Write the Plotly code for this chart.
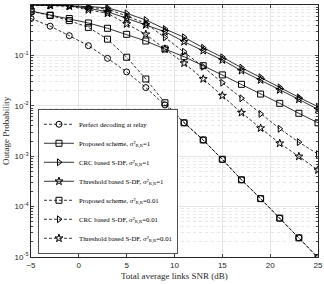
import plotly.graph_objects as go

snr = [-5, -3, -1, 1, 3, 5, 7, 9, 11, 13, 15, 17, 19, 21, 23, 25]

perfect = [0.54, 0.38, 0.246, 0.156, 0.0875, 0.047, 0.023, 0.0104, 0.0046, 0.0021,
           8.6e-4, 3.4e-4, 1.44e-4, 5.9e-5, 2.4e-5, 9.7e-6]
proposed_1 = [0.76, 0.63, 0.54, 0.44, 0.345, 0.262, 0.193, 0.134, 0.094, 0.0625,
              0.041, 0.0267, 0.0171, 0.0112, 0.0071, 0.0046]
crc_1 = [1.0, 0.99, 0.97, 0.93, 0.88, 0.684, 0.504, 0.334, 0.229, 0.142,
         0.092, 0.0572, 0.0369, 0.0232, 0.0147, 0.0096]
thr_1 = [1.0, 0.99, 0.96, 0.86, 0.736, 0.545, 0.401, 0.295, 0.187, 0.124,
         0.081, 0.0497, 0.0325, 0.0206, 0.0134, 0.0085]
proposed_001 = [0.75, 0.62, 0.49, 0.36, 0.21, 0.092, 0.034, 0.0115, 0.0046, 0.0021,
                8.7e-4, 3.4e-4, 1.44e-4, 5.9e-5, 2.4e-5, 9.7e-6]
crc_001 = [1.0, 0.99, 0.96, 0.90, 0.83, 0.605, 0.43, 0.227, 0.118, 0.0595,
           0.0287, 0.0141, 0.0069, 0.0035, 0.0019, 0.0011]
thr_001 = [1.0, 0.99, 0.95, 0.80, 0.684, 0.42, 0.262, 0.134, 0.070, 0.0341,
           0.0159, 0.0073, 0.0036, 0.0018, 0.00099, 0.00053]

sig = "σ²<sub>R,R</sub>"
series = [
    ("Perfect decoding at relay", perfect, "circle-open", "3px,2px"),
    ("Proposed scheme, " + sig + "=1", proposed_1, "square-open", "solid"),
    ("CRC based S-DF, " + sig + "=1", crc_1, "triangle-right-open", "solid"),
    ("Threshold based S-DF, " + sig + "=1", thr_1, "star-open", "solid"),
    ("Proposed scheme, " + sig + "=0.01", proposed_001, "square-open", "3px,2px"),
    ("CRC based S-DF, " + sig + "=0.01", crc_001, "triangle-right-open", "3px,2px"),
    ("Threshold based S-DF, " + sig + "=0.01", thr_001, "star-open", "3px,2px"),
]

fig = go.Figure()
for name, vals, sym, dash in series:
    fig.add_trace(go.Scatter(
        x=snr, y=vals, name=name, mode="lines+markers",
        line=dict(color="black", width=0.8, dash=dash),
        marker=dict(symbol=sym, size=6, color="black", line=dict(width=1, color="black")),
    ))

ytick_vals = [1e-5, 1e-4, 1e-3, 1e-2, 1e-1, 1]
ytick_text = ["10<sup>-5</sup>", "10<sup>-4</sup>", "10<sup>-3</sup>",
              "10<sup>-2</sup>", "10<sup>-1</sup>", "10<sup>0</sup>"]

fig.update_layout(
    width=324, height=284,
    margin=dict(l=31, r=6, t=5, b=27),
    paper_bgcolor="white", plot_bgcolor="white",
    font=dict(family="Liberation Sans", size=8, color="#262626"),
    showlegend=True,
    legend=dict(
        x=0.025, y=0.012, xanchor="left", yanchor="bottom",
        bgcolor="white", bordercolor="#262626", borderwidth=0.8,
        font=dict(family="Liberation Serif", size=6.8, color="black"),
        tracegroupgap=0, itemwidth=30,
    ),
    xaxis=dict(
        range=[-5, 25], tickvals=[-5, 0, 5, 10, 15, 20, 25],
        ticks="inside", ticklen=3, mirror="allticks", showline=True,
        linecolor="#262626", linewidth=0.8, automargin=False,
        showgrid=True, gridcolor="#e6e6e6", gridwidth=0.8, zeroline=False,
        tickfont=dict(size=8, color="#262626"),
    ),
    yaxis=dict(
        type="log", range=[-5, 0], tickvals=ytick_vals, ticktext=ytick_text,
        ticks="inside", ticklen=3, mirror="allticks", showline=True,
        linecolor="#262626", linewidth=0.8, automargin=False,
        showgrid=True, gridcolor="#e6e6e6", gridwidth=0.8, zeroline=False,
        minor=dict(dtick="D1", showgrid=True, gridcolor="#e8e8e8", griddash="dot",
                   ticks="inside", ticklen=2),
        tickfont=dict(size=8, color="#262626"),
    ),
    annotations=[
        dict(text="Total average links SNR (dB)", xref="paper", yref="paper",
             x=0.5, y=-0.075, xanchor="center", yanchor="middle", showarrow=False,
             font=dict(family="Liberation Serif", size=9, color="#262626")),
        dict(text="Outage Probability", xref="paper", yref="paper",
             x=-0.087, y=0.5, xanchor="center", yanchor="middle", textangle=-90,
             showarrow=False,
             font=dict(family="Liberation Serif", size=9, color="#262626")),
    ],
)

fig.write_html("out.html", config={"displayModeBar": False},
               post_script="document.body.style.margin='0';")
